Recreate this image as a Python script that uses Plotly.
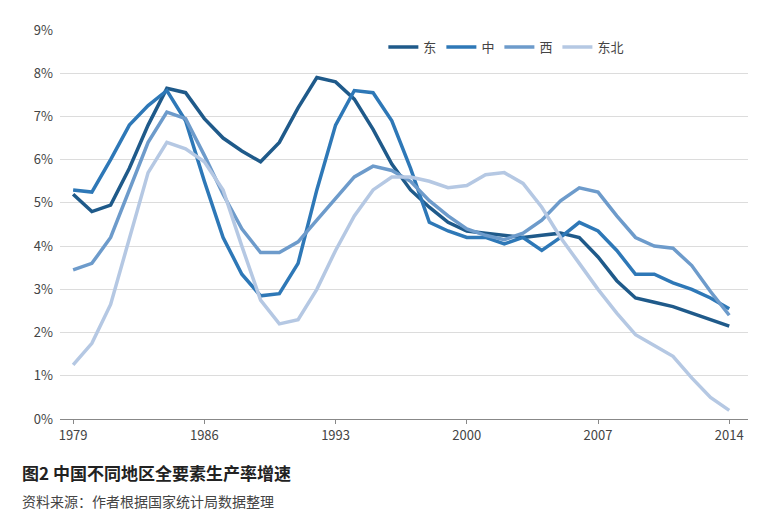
import plotly.graph_objects as go

years = list(range(1979, 2015))
east = [5.2,4.8,4.95,5.8,6.8,7.65,7.55,6.95,6.5,6.2,5.95,6.4,7.2,7.9,7.8,7.4,6.7,5.9,5.3,4.9,4.55,4.35,4.3,4.25,4.2,4.25,4.3,4.2,3.75,3.2,2.8,2.7,2.6,2.45,2.3,2.15]
mid = [5.3,5.25,6.0,6.8,7.25,7.6,6.9,5.5,4.2,3.35,2.85,2.9,3.6,5.3,6.8,7.6,7.55,6.9,5.8,4.55,4.35,4.2,4.2,4.05,4.2,3.9,4.2,4.55,4.35,3.9,3.35,3.35,3.15,3.0,2.8,2.55]
west = [3.45,3.6,4.2,5.3,6.4,7.1,6.95,6.1,5.2,4.4,3.85,3.85,4.1,4.6,5.1,5.6,5.85,5.75,5.5,5.05,4.7,4.4,4.25,4.15,4.3,4.6,5.05,5.35,5.25,4.7,4.2,4.0,3.95,3.55,2.95,2.4]
ne = [1.25,1.75,2.65,4.2,5.7,6.4,6.25,5.95,5.3,4.0,2.75,2.2,2.3,3.0,3.9,4.7,5.3,5.6,5.6,5.5,5.35,5.4,5.65,5.7,5.45,4.9,4.2,3.6,3.0,2.45,1.95,1.7,1.45,0.95,0.5,0.2]
names = ["东", "中", "西", "东北"]
colors = ["#1f5a8a", "#2e78b7", "#6d9bcb", "#b5c8e3"]

fig = go.Figure()
for n, s, c in zip(names, [east, mid, west, ne], colors):
    fig.add_trace(go.Scatter(x=years, y=[v/100 for v in s], name=n, mode="lines",
                             line=dict(color=c, width=3.5)))
fig.update_layout(
    width=778, height=520, plot_bgcolor="white", paper_bgcolor="white",
    margin=dict(l=52, r=38, t=19, b=109),
    font=dict(family="Noto Sans CJK SC", size=13, color="#444"),
    legend=dict(orientation="h", x=0.47, y=0.995, xanchor="left", yanchor="top",
                font=dict(size=13), bgcolor="rgba(0,0,0,0)"),
    xaxis=dict(range=[1978.3, 2015], tickvals=[1979,1986,1993,2000,2007,2014],
               showgrid=False, showline=True, linecolor="#888", ticks="outside",
               ticklen=4, tickcolor="#888"),
    yaxis=dict(range=[0, 0.09], dtick=0.01, tickformat=".0%", showgrid=True,
               gridcolor="#dcdcdc", zeroline=False, ticklabelstandoff=6),
)
fig.add_annotation(text="<b>图2 中国不同地区全要素生产率增速</b>", xref="paper", yref="paper",
                   x=-0.058, y=-0.1, xanchor="left", yanchor="top", showarrow=False,
                   font=dict(size=17, color="#222"))
fig.add_annotation(text="资料来源：作者根据国家统计局数据整理", xref="paper", yref="paper",
                   x=-0.058, y=-0.18, xanchor="left", yanchor="top", showarrow=False,
                   font=dict(size=14, color="#444"))
fig.write_html("out.html")
